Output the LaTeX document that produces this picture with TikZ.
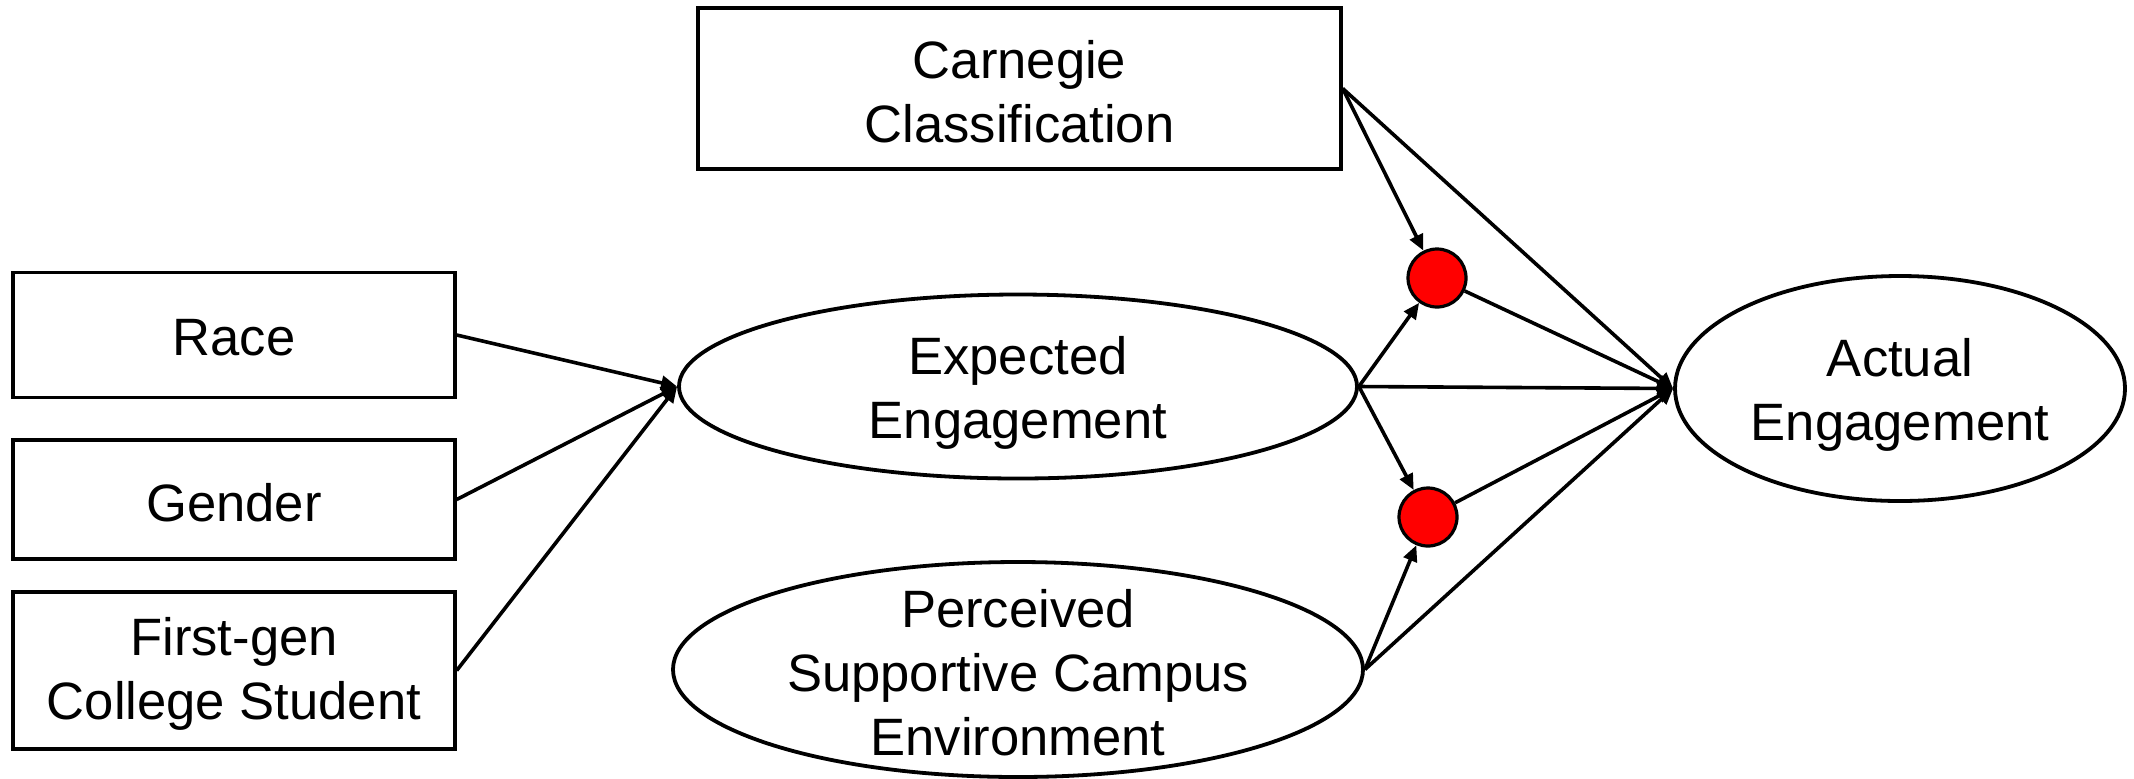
\documentclass[tikz,border=0pt]{standalone}
\usepackage{fontspec}
\setmainfont{Liberation Sans}
\usetikzlibrary{shapes.geometric,arrows.meta}
\begin{document}
\begin{tikzpicture}[x=0.5pt,y=-0.5pt,
  every node/.style={font=\fontsize{26.3pt}{32pt}\selectfont, align=center},
  boxtext/.style={yshift=-1.5pt},
  elltext/.style={yshift=-3pt},
  box/.style={draw, line width=1.7pt, inner sep=0pt, minimum width=221pt},
  ell/.style={draw, ellipse, line width=1.9pt, inner sep=0pt},
  dot/.style={draw, circle, fill=red, line width=1.6pt, minimum size=29pt, inner sep=0pt},
  link/.style={line width=1.8pt, -{Triangle[length=8pt,width=7pt]}},
]
\useasboundingbox (0,0) rectangle (2134,778);

% observed variables
\node[box, minimum width=321.5pt, minimum height=80.5pt,
      label={[boxtext]center:Carnegie\\Classification}] (carn) at (1019.5,88.5) {};
\node[box, minimum height=62.5pt,
      label={[boxtext]center:Race}] (race) at (234,335) {};
\node[box, minimum height=59.5pt,
      label={[boxtext]center:Gender}] (gend) at (234,499.5) {};
\node[box, minimum height=78.5pt,
      label={[boxtext]center:First-gen\\College Student}] (fgen) at (234,670.5) {};

% latent variables
\node[ell, minimum width=339pt, minimum height=92pt,
      label={[elltext]center:Expected\\Engagement}] (exp) at (1018,386.5) {};
\node[ell, minimum width=345pt, minimum height=107.5pt,
      label={[yshift=-1.5pt]center:Perceived\\Supportive Campus\\Environment}] (pse) at (1018,669.5) {};
\node[ell, minimum width=225pt, minimum height=112.5pt,
      label={[elltext]center:Actual\\Engagement}] (act) at (1900,388.5) {};

% interaction terms
\node[dot] (d1) at (1437,278) {};
\node[dot] (d2) at (1428,517) {};

% paths
\draw[link] (race.east) -- (exp.west);
\draw[link] (gend.east) -- (exp.west);
\draw[link] (fgen.east) -- (exp.west);
\draw[link] (carn.east) -- (d1);
\draw[link] (carn.east) -- (act.west);
\draw[link] (exp.east) -- (d1);
\draw[link] (exp.east) -- (act.west);
\draw[link] (exp.east) -- (d2);
\draw[link] (pse.east) -- (d2);
\draw[link] (pse.east) -- (act.west);
\draw[link] (d1) -- (act.west);
\draw[link] (d2) -- (act.west);
\end{tikzpicture}
\end{document}
